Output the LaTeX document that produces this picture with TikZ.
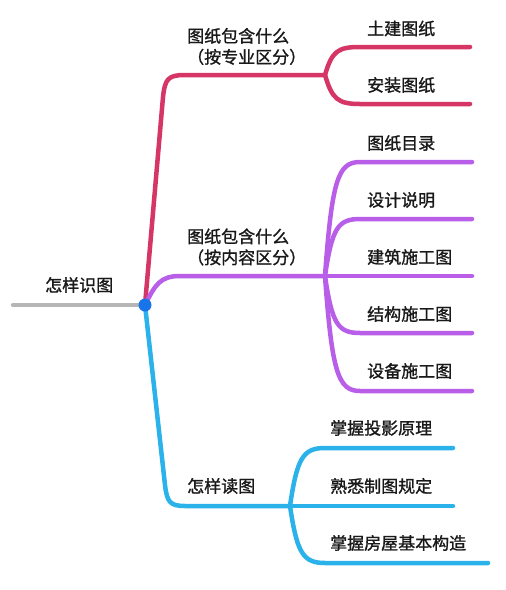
\documentclass[tikz,border=0pt]{standalone}
\usepackage{fontspec}
\setmainfont{Noto Sans CJK SC}[FakeBold=1.2]
\definecolor{cred}{RGB}{214,54,102}
\definecolor{cpur}{RGB}{184,94,232}
\definecolor{cblu}{RGB}{44,178,234}
\definecolor{cgray}{RGB}{182,182,182}
\definecolor{cdot}{RGB}{24,116,232}
\definecolor{ctxt}{RGB}{25,25,25}
\begin{document}
\begin{tikzpicture}[x=1pt,y=-1pt,
  br/.style={line width=4.5pt, line cap=round, line join=round},
  lbl/.style={font=\fontsize{17}{21}\selectfont, inner sep=0pt, anchor=west, text=ctxt, align=left}]
\useasboundingbox (0,0) rectangle (506,590);
\fill[white] (0,0) rectangle (506,590);
% centre and root
\coordinate (c) at (145,305);
\coordinate (g0) at (13,305);
\draw[br,cgray] (g0) -- (c);
% red branch
\coordinate (rf) at (325,75);
\coordinate (r1) at (470,47);
\coordinate (r2) at (470,104);
\draw[br,cred] (c) -- (163,97) .. controls (165,79) and (168,75) .. (185,75) -- (rf);
\draw[br,cred] (rf) .. controls (332,51) and (338,47) .. (360,47) -- (r1);
\draw[br,cred] (rf) .. controls (332,99) and (338,104) .. (360,104) -- (r2);
% purple branch
\coordinate (pf) at (325,276);
\coordinate (p1) at (472,162);
\coordinate (p2) at (472,219);
\coordinate (p3) at (472,276);
\coordinate (p4) at (472,333);
\coordinate (p5) at (472,391);
\draw[br,cpur] (c) .. controls (155,285) and (160,276) .. (180,276) -- (pf);
\draw[br,cpur] (pf) .. controls (332,180) and (338,162) .. (360,162) -- (p1);
\draw[br,cpur] (pf) .. controls (332,228) and (338,219) .. (360,219) -- (p2);
\draw[br,cpur] (pf) -- (p3);
\draw[br,cpur] (pf) .. controls (332,324) and (338,333) .. (360,333) -- (p4);
\draw[br,cpur] (pf) .. controls (332,372) and (338,391) .. (360,391) -- (p5);
% blue branch
\coordinate (bf) at (290,506);
\coordinate (b1) at (453,448);
\coordinate (b2) at (453,506);
\coordinate (b3) at (488,563);
\draw[br,cblu] (c) -- (165,485) .. controls (167,502) and (170,506) .. (185,506) -- (bf);
\draw[br,cblu] (bf) .. controls (297,458) and (303,448) .. (325,448) -- (b1);
\draw[br,cblu] (bf) -- (b2);
\draw[br,cblu] (bf) .. controls (297,553) and (303,563) .. (325,563) -- (b3);
\fill[cdot] (c) circle (6.5);
% labels
\node[lbl] (t0) at (45,285) {怎样识图};
\node[lbl] (tr) at (187,46.5) {图纸包含什么\\（按专业区分）};
\node[lbl] (tr1) at (367,28.5) {土建图纸};
\node[lbl] (tr2) at (367,85) {安装图纸};
\node[lbl] (tp) at (187,247) {图纸包含什么\\（按内容区分）};
\node[lbl] (tp1) at (367,143) {图纸目录};
\node[lbl] (tp2) at (367,200) {设计说明};
\node[lbl] (tp3) at (367,257) {建筑施工图};
\node[lbl] (tp4) at (367,314) {结构施工图};
\node[lbl] (tp5) at (367,371) {设备施工图};
\node[lbl] (tb) at (187,486) {怎样读图};
\node[lbl] (tb1) at (330,428) {掌握投影原理};
\node[lbl] (tb2) at (330,486) {熟悉制图规定};
\node[lbl] (tb3) at (330,543) {掌握房屋基本构造};
\end{tikzpicture}
\end{document}
